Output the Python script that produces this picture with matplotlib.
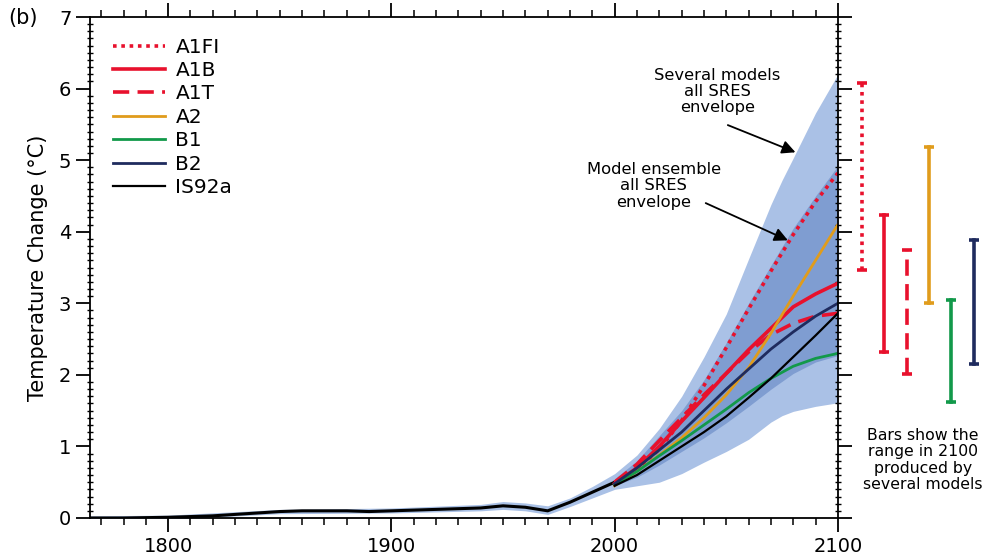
import numpy as np
import matplotlib
matplotlib.use('Agg')
import matplotlib.pyplot as plt
from matplotlib.ticker import MultipleLocator

# historical run (common to all scenarios)
hist_years = [1765, 1780, 1800, 1810, 1820, 1830, 1840, 1850, 1860, 1870, 1880, 1890,
              1900, 1910, 1920, 1930, 1940, 1950, 1960, 1970, 1980, 1990, 2000]
hist_temp = [0.0, 0.0, 0.01, 0.02, 0.03, 0.05, 0.07, 0.09, 0.10, 0.10, 0.10, 0.09,
             0.10, 0.11, 0.12, 0.13, 0.14, 0.17, 0.15, 0.10, 0.22, 0.36, 0.50]

# "several models" envelope
env_years = [1765, 1800, 1850, 1900, 1940, 1950, 1960, 1970, 1980, 1990, 2000, 2010, 2020,
             2030, 2040, 2050, 2060, 2065, 2070, 2075, 2080, 2090, 2100]
outer_hi = [0.03, 0.04, 0.12, 0.14, 0.19, 0.23, 0.21, 0.17, 0.28, 0.44, 0.62, 0.88, 1.25,
            1.70, 2.25, 2.85, 3.62, 4.00, 4.38, 4.72, 5.03, 5.66, 6.20]
outer_lo = [-0.03, -0.02, 0.06, 0.07, 0.10, 0.12, 0.10, 0.05, 0.16, 0.28, 0.40, 0.45, 0.50,
            0.62, 0.78, 0.93, 1.10, 1.22, 1.34, 1.43, 1.49, 1.56, 1.61]

# projections
proj_years = [2000, 2010, 2020, 2030, 2040, 2050, 2060, 2070, 2080, 2090, 2100]
inner_hi = [0.55, 0.80, 1.15, 1.50, 1.93, 2.45, 3.00, 3.53, 4.05, 4.50, 4.92]
inner_lo = [0.45, 0.57, 0.74, 0.93, 1.12, 1.33, 1.56, 1.80, 2.02, 2.18, 2.27]

a1fi = [0.50, 0.68, 0.96, 1.36, 1.85, 2.38, 2.92, 3.45, 3.96, 4.42, 4.82]
a1b = [0.48, 0.70, 1.00, 1.35, 1.68, 2.02, 2.35, 2.65, 2.95, 3.13, 3.28]
a1t = [0.50, 0.75, 1.08, 1.40, 1.72, 2.02, 2.32, 2.56, 2.72, 2.82, 2.86]
a2 = [0.45, 0.65, 0.88, 1.12, 1.40, 1.72, 2.10, 2.58, 3.10, 3.60, 4.10]
b1 = [0.47, 0.65, 0.87, 1.08, 1.30, 1.52, 1.75, 1.95, 2.12, 2.23, 2.30]
b2 = [0.48, 0.70, 0.95, 1.20, 1.50, 1.80, 2.08, 2.36, 2.60, 2.82, 3.00]
is92a = [0.45, 0.60, 0.80, 1.00, 1.20, 1.42, 1.68, 1.95, 2.25, 2.55, 2.86]

# ranges in 2100 from several models
bar_names = ['A1FI', 'A1B', 'A1T', 'A2', 'B1', 'B2']
bar_lo = [3.47, 2.32, 2.01, 3.00, 1.62, 2.15]
bar_hi = [6.08, 4.23, 3.74, 5.18, 3.04, 3.88]

red = '#e8112d'
orange = '#e09c1c'
green = '#12994a'
navy = '#1f2b5e'
dotted = (0, (1.0, 1.3))
dashed = (0, (4.5, 2.3))

series = [
    ('A1FI', a1fi, red, dotted),
    ('A1B', a1b, red, '-'),
    ('A1T', a1t, red, dashed),
    ('A2', a2, orange, '-'),
    ('B1', b1, green, '-'),
    ('B2', b2, navy, '-'),
    ('IS92a', is92a, 'black', '-'),
]
bar_style = {'A1FI': (red, dotted), 'A1B': (red, '-'), 'A1T': (red, dashed),
             'A2': (orange, '-'), 'B1': (green, '-'), 'B2': (navy, '-')}

fig = plt.figure(figsize=(9.84, 5.58), dpi=100)
ax = fig.add_axes([0.0915, 0.0717, 0.76, 0.8978])

ax.fill_between(env_years, outer_lo, outer_hi, color='#aac1e6', lw=0)
ax.fill_between(proj_years, inner_lo, inner_hi, color='#7f9dd1', lw=0)

ax.plot(hist_years, hist_temp, color='black', lw=2.2, solid_capstyle='butt')

handles = []
for name, vals, col, ls in series:
    lw = 2.6 if col == red else 2.0
    if name == 'IS92a':
        lw = 1.6
    h, = ax.plot(proj_years, vals, color=col, ls=ls, lw=lw, label=name)
    handles.append(h)

# range bars to the right of the plot
for i, name in enumerate(bar_names):
    col, ls = bar_style[name]
    x = 2110.8 + 10 * i
    ax.plot([x, x], [bar_lo[i], bar_hi[i]], color=col, ls=ls, lw=2.6, clip_on=False)
    for y in (bar_lo[i], bar_hi[i]):
        ax.plot([x - 2.2, x + 2.2], [y, y], color=col, lw=2.6, clip_on=False,
                solid_capstyle='butt')

ax.text(2138, 0.81, 'Bars show the\nrange in 2100\nproduced by\nseveral models',
        ha='center', va='center', fontsize=11.3, linespacing=1.1)

ax.text(2046, 5.96, 'Several models\nall SRES\nenvelope', ha='center', va='center',
        fontsize=11.8, linespacing=1.1)
ax.annotate('', xy=(2081, 5.11), xytext=(2050.7, 5.49),
            arrowprops=dict(arrowstyle='-|>', color='black', lw=1.3,
                            mutation_scale=20, shrinkA=0, shrinkB=0))
ax.text(2017.5, 4.64, 'Model ensemble\nall SRES\nenvelope', ha='center', va='center',
        fontsize=11.8, linespacing=1.1)
ax.annotate('', xy=(2077.6, 3.88), xytext=(2040.8, 4.40),
            arrowprops=dict(arrowstyle='-|>', color='black', lw=1.3,
                            mutation_scale=20, shrinkA=0, shrinkB=0))

ax.set_xlim(1765, 2100)
ax.set_ylim(0, 7)
ax.xaxis.set_major_locator(MultipleLocator(100))
ax.xaxis.set_minor_locator(MultipleLocator(10))
ax.yaxis.set_major_locator(MultipleLocator(1))
ax.yaxis.set_minor_locator(MultipleLocator(0.1))
ax.tick_params(axis='x', which='major', direction='out', length=10, width=1.3,
               labelsize=14, pad=4, top=True)
ax.tick_params(axis='x', which='minor', direction='out', length=5, width=1.1, top=True)
ax.tick_params(axis='y', which='major', direction='out', length=10, width=1.3,
               labelsize=14, right=True)
ax.tick_params(axis='y', which='minor', direction='inout', length=5, width=1.0, right=True)
for s in ax.spines.values():
    s.set_linewidth(1.3)

ax.set_ylabel('Temperature Change (°C)', fontsize=15, labelpad=8)

ax.legend(handles=handles, loc='upper left', bbox_to_anchor=(0.02, 0.975),
          frameon=False, fontsize=14.5, handlelength=2.6, labelspacing=0.22,
          handletextpad=0.5, borderaxespad=0)

fig.text(0.008, 0.967, '(b)', fontsize=15, va='center', ha='left')

fig.savefig('out.png', dpi=100)
